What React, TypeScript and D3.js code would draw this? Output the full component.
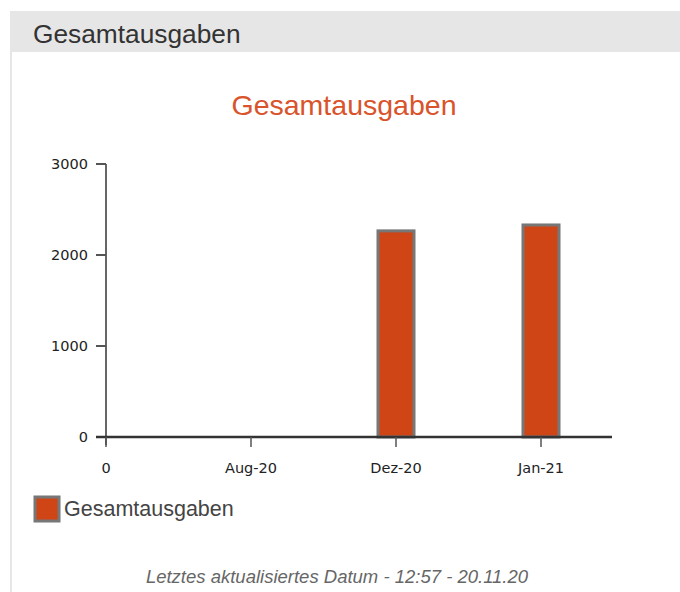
import React, { useEffect, useRef } from "react";
import * as d3 from "d3";

const categories = ["0", "Aug-20", "Dez-20", "Jan-21"];
const values = [0, 0, 2265, 2330];
const yTicks = [0, 1000, 2000, 3000];
const seriesName = "Gesamtausgaben";

const W = 680;
const H = 592;

export default function App() {
  const ref = useRef<SVGSVGElement>(null);

  useEffect(() => {
    const svg = d3.select(ref.current);
    svg.selectAll("*").remove();
    const arial = "Arial, 'Liberation Sans', sans-serif";

    // panel frame
    svg.append("rect").attr("x", 10).attr("y", 11).attr("width", W - 10).attr("height", 41).attr("fill", "#e6e6e6");
    svg.append("line").attr("x1", 11).attr("x2", 11).attr("y1", 52).attr("y2", H).attr("stroke", "#e6e6e6").attr("stroke-width", 2);
    svg.append("text")
      .attr("x", 33).attr("y", 43)
      .attr("font-family", arial)
      .attr("font-size", 26.3).attr("fill", "#333")
      .text(seriesName);

    // chart title
    svg.append("text")
      .attr("x", 344).attr("y", 115)
      .attr("text-anchor", "middle")
      .attr("font-family", arial)
      .attr("font-size", 28.5).attr("fill", "#d9532b")
      .text(seriesName);

    const x = d3.scalePoint<string>().domain(categories).range([106, 541]);
    const y = d3.scaleLinear().domain([0, 3000]).range([437, 164]);

    const g = svg.append("g");
    const font = "Tahoma, Verdana, 'DejaVu Sans', sans-serif";

    // y axis
    g.append("line").attr("x1", 106).attr("x2", 106).attr("y1", y(3000)).attr("y2", 445).attr("stroke", "#333").attr("stroke-width", 1.5);
    g.selectAll(".yt").data(yTicks).enter().append("line")
      .attr("x1", 96).attr("x2", 106).attr("y1", d => y(d)).attr("y2", d => y(d))
      .attr("stroke", "#555").attr("stroke-width", 2);
    g.selectAll(".yl").data(yTicks).enter().append("text")
      .attr("x", 88).attr("y", d => y(d) + 5)
      .attr("text-anchor", "end")
      .attr("font-family", font).attr("font-size", 14.5).attr("fill", "#222")
      .text(d => String(d));

    // bars
    const bw = 36;
    g.selectAll(".bar").data(categories.map((c, i) => ({ c, v: values[i] })).filter(d => d.v > 0))
      .enter().append("rect")
      .attr("x", d => (x(d.c) as number) - bw / 2)
      .attr("y", d => y(d.v))
      .attr("width", bw)
      .attr("height", d => y(0) - y(d.v))
      .attr("fill", "#cf4516")
      .attr("stroke", "#777").attr("stroke-width", 3);

    // x axis
    g.append("line").attr("x1", 96).attr("x2", 612).attr("y1", 437).attr("y2", 437).attr("stroke", "#333").attr("stroke-width", 2.5);
    g.selectAll(".xt").data(categories).enter().append("line")
      .attr("x1", d => x(d) as number).attr("x2", d => x(d) as number)
      .attr("y1", 437).attr("y2", 447)
      .attr("stroke", "#555").attr("stroke-width", 1.5);
    g.selectAll(".xl").data(categories).enter().append("text")
      .attr("x", d => x(d) as number).attr("y", 473)
      .attr("text-anchor", "middle")
      .attr("font-family", font).attr("font-size", 14.5).attr("fill", "#222")
      .text(d => d);

    // legend
    svg.append("rect").attr("x", 35).attr("y", 497).attr("width", 24).attr("height", 24)
      .attr("fill", "#cf4516").attr("stroke", "#777").attr("stroke-width", 3);
    svg.append("text")
      .attr("x", 64).attr("y", 516)
      .attr("font-family", arial)
      .attr("font-size", 21.5).attr("fill", "#444")
      .text(seriesName);

    // footer
    svg.append("text")
      .attr("x", 337).attr("y", 583)
      .attr("text-anchor", "middle")
      .attr("font-family", arial)
      .attr("font-style", "italic")
      .attr("font-size", 18.5).attr("fill", "#666")
      .text("Letztes aktualisiertes Datum - 12:57 - 20.11.20");
  }, []);

  return (
    <svg
      ref={ref}
      width={W}
      height={H}
      style={{ position: "fixed", left: 0, top: 0, background: "#fff" }}
    />
  );
}
